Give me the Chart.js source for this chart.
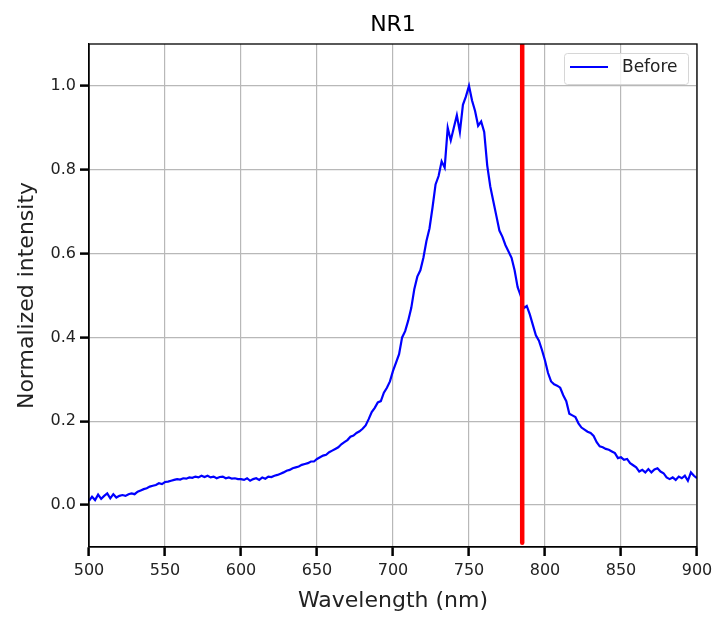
<!DOCTYPE html>
<html>
<head>
<meta charset="utf-8">
<script src="https://cdn.jsdelivr.net/npm/chart.js@4.4.1/dist/chart.umd.min.js"></script>
<style>
  html, body { margin: 0; padding: 0; background: #fff; }
  #wrap { width: 715px; height: 617px; }
</style>
</head>
<body>
<div id="wrap"><canvas id="c" width="715" height="617"></canvas></div>
<script>
// ---- data ----
const wavelengths = [
  500,502,504,506,508,510,512,514,516,518,520,522,524,526,528,530,532,534,536,538,
  540,542,544,546,548,550,552,554,556,558,560,562,564,566,568,570,572,574,576,578,
  580,582,584,586,588,590,592,594,596,598,600,602,604,606,608,610,612,614,616,618,
  620,622,624,626,628,630,632,634,636,638,640,642,644,646,648,650,652,654,656,658,
  660,662,664,666,668,670,672,674,676,678,680,682,684,686,688,690,692,694,696,698,
  700,702,704,706,708,710,712,714,716,718,720,722,724,726,728,730,732,734,736,738,
  740,742,744,746,748,750,752,754,756,758,760,762,764,766,768,770,772,774,776,778,
  780,782,784,786,788,790,792,794,796,798,800,802,804,806,808,810,812,814,816,818,
  820,822,824,826,828,830,832,834,836,838,840,842,844,846,848,850,852,854,856,858,
  860,862,864,866,868,870,872,874,876,878,880,882,884,886,888,890,892,894,896,898,
  900
];
const beforeIntensity = [
  0.010,0.020,0.012,0.025,0.015,0.022,0.028,0.016,0.026,0.018,
  0.022,0.024,0.022,0.026,0.028,0.026,0.032,0.035,0.038,0.040,
  0.044,0.046,0.048,0.052,0.050,0.055,0.056,0.058,0.060,0.062,
  0.061,0.064,0.063,0.066,0.065,0.068,0.066,0.070,0.067,0.070,
  0.066,0.068,0.064,0.067,0.068,0.064,0.066,0.063,0.064,0.062,
  0.062,0.060,0.064,0.058,0.062,0.064,0.060,0.066,0.063,0.068,
  0.067,0.070,0.072,0.075,0.078,0.082,0.084,0.088,0.090,0.092,
  0.096,0.098,0.100,0.104,0.104,0.110,0.114,0.118,0.120,0.126,
  0.130,0.134,0.138,0.145,0.150,0.155,0.163,0.166,0.172,0.176,
  0.182,0.190,0.205,0.222,0.232,0.245,0.248,0.268,0.280,0.295,
  0.320,0.340,0.360,0.400,0.415,0.440,0.470,0.515,0.545,0.560,
  0.590,0.630,0.660,0.710,0.765,0.785,0.820,0.805,0.900,0.870,
  0.900,0.930,0.890,0.955,0.975,1.000,0.965,0.940,0.905,0.915,
  0.890,0.810,0.760,0.725,0.690,0.655,0.640,0.620,0.605,0.590,
  0.560,0.520,0.500,0.470,0.475,0.455,0.430,0.405,0.392,0.370,
  0.345,0.315,0.295,0.288,0.285,0.280,0.262,0.248,0.218,0.214,
  0.210,0.195,0.185,0.180,0.175,0.172,0.165,0.150,0.140,0.138,
  0.134,0.132,0.128,0.124,0.112,0.114,0.108,0.110,0.100,0.095,
  0.090,0.080,0.084,0.078,0.086,0.078,0.085,0.088,0.080,0.076,
  0.066,0.062,0.066,0.060,0.068,0.064,0.070,0.058,0.078,0.070,
  0.064
];
const markerWavelength = [785, 785];
const markerSpan = [-0.09, 1.1];
const xTicks = [500, 550, 600, 650, 700, 750, 800, 850, 900];
const yTicks = [0.0, 0.2, 0.4, 0.6, 0.8, 1.0];
const seriesName = "Before";
const chartTitle = "NR1";
const xLabel = "Wavelength (nm)";
const yLabel = "Normalized intensity";

// ---- chart ----
const FONT = "'DejaVu Sans', sans-serif";

const framePlugin = {
  id: 'frame',
  afterDatasetsDraw(chart) {
    const a = chart.chartArea, ctx = chart.ctx;
    ctx.save();
    ctx.strokeStyle = '#000';
    ctx.lineWidth = 1.3;
    ctx.strokeRect(a.left, a.top, a.right - a.left, a.bottom - a.top);
    ctx.restore();
  }
};

const titlePlugin = {
  id: 'axesTitle',
  afterDraw(chart) {
    const a = chart.chartArea, ctx = chart.ctx;
    ctx.save();
    ctx.fillStyle = '#000';
    ctx.font = '22px ' + FONT;
    ctx.textAlign = 'center';
    ctx.textBaseline = 'alphabetic';
    ctx.fillText(chartTitle, (a.left + a.right) / 2, 31);
    ctx.restore();
  }
};

const legendPlugin = {
  id: 'mplLegend',
  afterDraw(chart) {
    const a = chart.chartArea, ctx = chart.ctx;
    const w = 124, h = 31;
    const x = a.right - 9 - w, y = a.top + 9;
    ctx.save();
    ctx.fillStyle = 'rgba(255,255,255,0.8)';
    ctx.strokeStyle = '#d6d6d6';
    ctx.lineWidth = 1;
    ctx.beginPath();
    ctx.roundRect(x + 0.5, y + 0.5, w, h, 3);
    ctx.fill();
    ctx.stroke();
    ctx.strokeStyle = '#0000ff';
    ctx.lineWidth = 2.2;
    ctx.beginPath();
    ctx.moveTo(x + 6, y + 14);
    ctx.lineTo(x + 44, y + 14);
    ctx.stroke();
    ctx.fillStyle = '#222';
    ctx.font = '17px ' + FONT;
    ctx.textBaseline = 'middle';
    ctx.textAlign = 'left';
    ctx.fillText(seriesName, x + 58, y + 15);
    ctx.restore();
  }
};

new Chart(document.getElementById('c'), {
  type: 'scatter',
  data: {
    datasets: [
      {
        label: seriesName,
        data: wavelengths.map((w, i) => ({ x: w, y: beforeIntensity[i] })),
        showLine: true,
        borderColor: '#0000ff',
        borderWidth: 2.2,
        pointRadius: 0,
        tension: 0,
        order: 2
      },
      {
        label: 'marker',
        data: markerWavelength.map((w, i) => ({ x: w, y: markerSpan[i] })),
        showLine: true,
        borderColor: '#ff0000',
        borderWidth: 4.5,
        borderCapStyle: 'round',
        pointRadius: 0,
        order: 1
      }
    ]
  },
  options: {
    responsive: false,
    animation: false,
    layout: { padding: { left: 0, right: 18, top: 44, bottom: 0 } },
    plugins: {
      legend: { display: false },
      tooltip: { enabled: false },
      title: { display: false }
    },
    scales: {
      x: {
        type: 'linear',
        min: 500, max: 900,
        afterBuildTicks(scale) { scale.ticks = xTicks.map(v => ({ value: v })); },
        afterFit(scale) { scale.height = 70; scale.paddingLeft = 0; scale.paddingRight = 0; },
        ticks: {
          color: '#222',
          font: { family: FONT, size: 16 },
          padding: 5,
          maxRotation: 0,
          autoSkip: false,
          callback: v => String(v)
        },
        grid: { color: '#b8b8b8', lineWidth: 1.2, tickColor: '#000', tickLength: 9, tickWidth: 2.5 },
        border: { color: '#000', width: 1.3 },
        title: {
          display: true,
          text: xLabel,
          color: '#222',
          font: { family: FONT, size: 22 },
          padding: { top: 2, bottom: 3 }
        }
      },
      y: {
        type: 'linear',
        min: -0.1, max: 1.1,
        afterBuildTicks(scale) { scale.ticks = yTicks.map(v => ({ value: v })); },
        afterFit(scale) { scale.width = 89; scale.paddingTop = 0; scale.paddingBottom = 0; },
        ticks: {
          color: '#222',
          font: { family: FONT, size: 16 },
          padding: 4,
          autoSkip: false,
          callback: v => Number(v).toFixed(1)
        },
        grid: { color: '#b8b8b8', lineWidth: 1.2, tickColor: '#000', tickLength: 9, tickWidth: 2.5 },
        border: { color: '#000', width: 1.3 },
        title: {
          display: true,
          text: yLabel,
          color: '#222',
          font: { family: FONT, size: 22 },
          padding: { top: 14, bottom: 4 }
        }
      }
    }
  },
  plugins: [framePlugin, titlePlugin, legendPlugin]
});
</script>
</body>
</html>
